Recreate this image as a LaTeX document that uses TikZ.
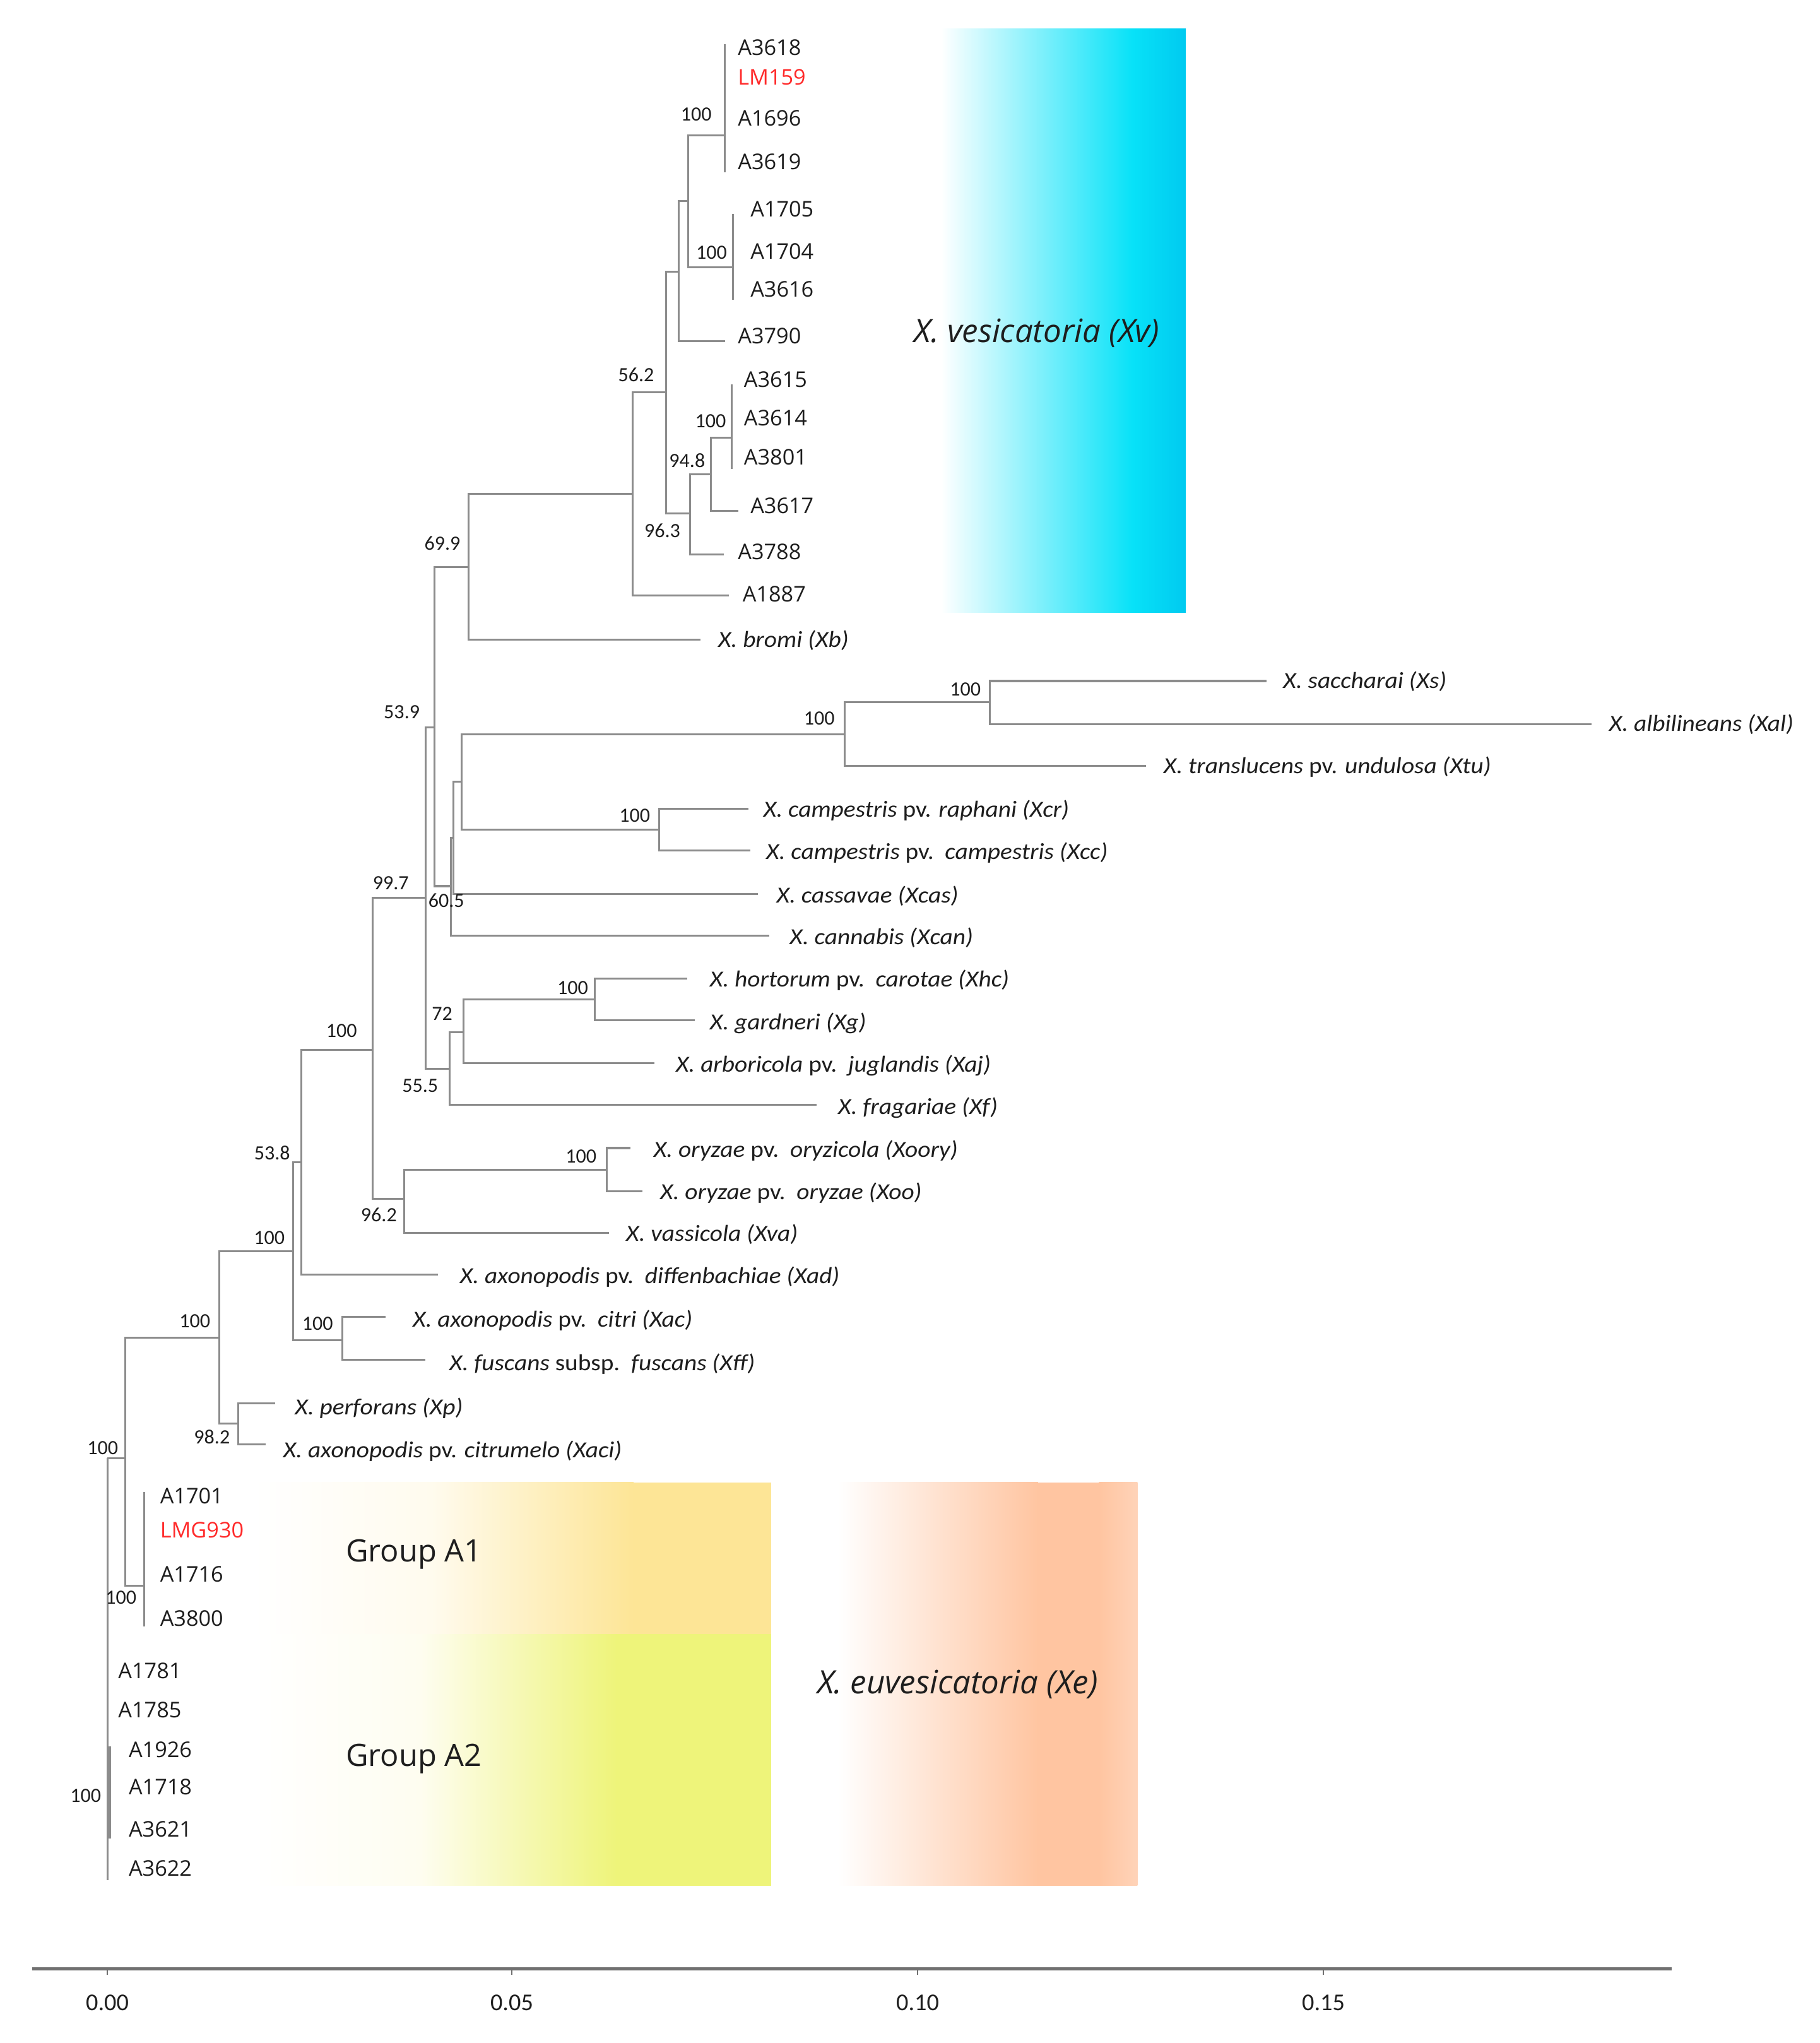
\documentclass[tikz,border=0pt]{standalone}
\usepackage{fontspec}
\setmainfont{Open Sans}
\newfontfamily\osfont{Open Sans}
\newfontfamily\spfont{Carlito}[FakeStretch=1.08]
\newfontfamily\bsfont{Carlito}
\newcommand{\pvtxt}{{\upshape pv.}}
\newcommand{\ssptxt}{{\upshape subsp.}}
\definecolor{brc}{HTML}{8C8C8C}
\definecolor{axc}{HTML}{707070}
\definecolor{txc}{HTML}{1E1E1E}
\definecolor{redlab}{HTML}{FF2A2A}
\definecolor{vesA}{HTML}{08E2F8}
\definecolor{vesB}{HTML}{00CAF0}
\definecolor{aoneA}{HTML}{FFFBEE}
\definecolor{aoneB}{HTML}{FDE596}
\definecolor{atwoA}{HTML}{FEFDF0}
\definecolor{atwoB}{HTML}{EEF47A}
\definecolor{euA}{HTML}{FFC5A1}
\definecolor{euB}{HTML}{FFD3B8}
\begin{document}
\begin{tikzpicture}[x=0.02cm,y=-0.01992cm,
  br/.style={draw=brc, line width=0.85pt},
  tip/.style={anchor=west, inner sep=0pt, text=txc, font=\osfont\fontsize{9.4}{10}\selectfont, text height=6.7pt, text depth=0pt},
  spec/.style={anchor=west, inner sep=0pt, text=txc, font=\spfont\fontsize{10}{11}\selectfont\itshape, text height=6.4pt, text depth=0pt},
  bs/.style={anchor=east, inner sep=0pt, text=txc, font=\bsfont\fontsize{8.8}{10}\selectfont, text height=5.6pt, text depth=0pt},
  axl/.style={anchor=center, inner sep=0pt, text=txc, font=\bsfont\fontsize{10.5}{12}\selectfont, text height=6.6pt, text depth=0pt},
  big/.style={anchor=west, inner sep=0pt, text=txc, font=\osfont\fontsize{14}{16}\selectfont\itshape, text height=10pt, text depth=0pt},
  grp/.style={anchor=west, inner sep=0pt, text=txc, font=\osfont\fontsize{13.4}{15}\selectfont, text height=9.6pt, text depth=0pt}
]
\useasboundingbox (0,0) rectangle (1390.2,1567.8);
\fill[white] (0,0) rectangle (1390.2,1567.8);

% ---------- coloured panels ----------
\shade[left color=white, right color=vesA] (719,22) rectangle (865,470);
\shade[left color=vesA, right color=vesB] (864.5,22) rectangle (906,470);

\shade[left color=white, right color=aoneA] (194,1137.5) rectangle (330,1254);
\shade[left color=aoneA, right color=aoneB] (329.5,1137.5) rectangle (484,1254);
\fill[aoneB] (483.5,1137.5) rectangle (589,1254);

\shade[left color=white, right color=atwoA] (194,1254) rectangle (322,1447);
\shade[left color=atwoA, right color=atwoB] (321.5,1254) rectangle (471,1447);
\fill[atwoB] (470.5,1254) rectangle (589,1447);

\shade[left color=white, right color=euA] (640,1137.5) rectangle (793,1447);
\fill[euA] (792.5,1137.5) rectangle (840,1447);
\shade[left color=euA, right color=euB] (839.5,1137.5) rectangle (869,1447);

% ---------- tree coordinates ----------
\coordinate (c1t) at (553.8,34);   \coordinate (c1b) at (553.8,132);  \coordinate (n1) at (553.8,103.7);
\coordinate (c2t) at (560,164);    \coordinate (c2b) at (560,230);    \coordinate (n2) at (560,205);
\coordinate (n3) at (525.8,154.4);
\coordinate (n4) at (518.6,208.4);
\coordinate (t3790) at (553.8,262);
\coordinate (n5) at (509,301);
\coordinate (c6t) at (559,295);    \coordinate (c6b) at (559,360);    \coordinate (n6) at (559,335.7);
\coordinate (n7) at (543,364);
\coordinate (t3617) at (564,392);
\coordinate (n8) at (527,394);
\coordinate (t3788) at (553,425.5);
\coordinate (n9) at (483.4,379);
\coordinate (t1887) at (557,457);
\coordinate (n10) at (358,435);
\coordinate (tXb) at (535,491);
\coordinate (n11) at (332,558);
\coordinate (n12a) at (756,539);
\coordinate (tXs) at (967.7,522.6);
\coordinate (tXal) at (1216,555.6);
\coordinate (n12) at (645.5,563.5);
\coordinate (tXtu) at (875.6,587.7);
\coordinate (ncamp) at (503.6,636.8);
\coordinate (tXcr) at (571.6,620.8);
\coordinate (tXcc) at (573,652.8);
\coordinate (nN1) at (352.6,600);
\coordinate (nN2) at (346.5,643);
\coordinate (tXcas) at (579,686);
\coordinate (nN3) at (344.5,680);
\coordinate (tXcan) at (587.6,718);
\coordinate (nhc) at (454.5,767);
\coordinate (tXhc) at (525,751);
\coordinate (tXg) at (531,783);
\coordinate (n15) at (354,792);
\coordinate (tXaj) at (500,816);
\coordinate (n16) at (343.5,820);
\coordinate (tXf) at (624,848);
\coordinate (n17) at (325,689);
\coordinate (nory) at (463.6,897.5);
\coordinate (tXoory) at (481.4,881);
\coordinate (tXoo) at (490.6,914);
\coordinate (n18) at (309,920);
\coordinate (tXva) at (465,946.3);
\coordinate (n19) at (284.6,805.6);
\coordinate (n20) at (230,892);
\coordinate (tXad) at (334.8,978);
\coordinate (ncit) at (261.6,1028.5);
\coordinate (tXac) at (294.6,1010.6);
\coordinate (tXff) at (325,1043.5);
\coordinate (n21) at (224,960);
\coordinate (nperf) at (182,1092.6);
\coordinate (tXp) at (210.4,1076.7);
\coordinate (tXaci) at (203,1108.6);
\coordinate (n22) at (167.4,1026.6);
\coordinate (cA1t) at (110,1145); \coordinate (cA1b) at (110,1248); \coordinate (nA1) at (110,1217);
\coordinate (n23) at (95.5,1119);
\coordinate (root) at (82,1119);   \coordinate (rootb) at (82,1443);
\coordinate (cA2t) at (83.3,1340); \coordinate (cA2b) at (83.3,1411);

% ---------- branches ----------
\draw[br] (c1t) -- (c1b);
\draw[br] (c2t) -- (c2b);
\draw[br] (c6t) -- (c6b);
\draw[br] (n3) |- (n1);  \draw[br] (n3) |- (n2);
\draw[br] (n4) |- (n3);  \draw[br] (n4) |- (t3790);
\draw[br] (n7) |- (n6);  \draw[br] (n7) |- (t3617);
\draw[br] (n8) |- (n7);  \draw[br] (n8) |- (t3788);
\draw[br] (n5) |- (n4);  \draw[br] (n5) |- (n8);
\draw[br] (n9) |- (n5);  \draw[br] (n9) |- (t1887);
\draw[br] (n10) |- (n9); \draw[br] (n10) |- (tXb);
\draw[br] (n12a) |- (tXs); \draw[br] (n12a) |- (tXal);
\draw[br] (n12) |- (n12a); \draw[br] (n12) |- (tXtu);
\draw[br] (ncamp) |- (tXcr); \draw[br] (ncamp) |- (tXcc);
\draw[br] (nN1) |- (n12); \draw[br] (nN1) |- (ncamp);
\draw[br] (nN2) |- (nN1); \draw[br] (nN2) |- (tXcas);
\draw[br] (nN3) |- (nN2); \draw[br] (nN3) |- (tXcan);
\draw[br] (n11) |- (n10); \draw[br] (n11) |- (nN3);
\draw[br] (nhc) |- (tXhc); \draw[br] (nhc) |- (tXg);
\draw[br] (n15) |- (nhc); \draw[br] (n15) |- (tXaj);
\draw[br] (n16) |- (n15); \draw[br] (n16) |- (tXf);
\draw[br] (n17) |- (n11); \draw[br] (n17) |- (n16);
\draw[br] (nory) |- (tXoory); \draw[br] (nory) |- (tXoo);
\draw[br] (n18) |- (nory); \draw[br] (n18) |- (tXva);
\draw[br] (n19) |- (n17); \draw[br] (n19) |- (n18);
\draw[br] (n20) |- (n19); \draw[br] (n20) |- (tXad);
\draw[br] (ncit) |- (tXac); \draw[br] (ncit) |- (tXff);
\draw[br] (n21) |- (n20); \draw[br] (n21) |- (ncit);
\draw[br] (nperf) |- (tXp); \draw[br] (nperf) |- (tXaci);
\draw[br] (n22) |- (n21); \draw[br] (n22) |- (nperf);
\draw[br] (cA1t) -- (cA1b);
\draw[br] (n23) |- (n22); \draw[br] (n23) |- (nA1);
\draw[br] (root) -- (n23);
\draw[br] (root) -- (rootb);
\draw[draw=brc, line width=1.6pt] (cA2t) -- (cA2b);

% ---------- strain labels ----------
\node[tip] (lA3618) at (563.4,36.7) {A3618};
\node[tip, text=redlab] (lLM159) at (563.4,59) {LM159};
\node[tip] (lA1696) at (563.4,90.7) {A1696};
\node[tip] (lA3619) at (563.4,124) {A3619};
\node[tip] (lA1705) at (573,160.6) {A1705};
\node[tip] (lA1704) at (573,193) {A1704};
\node[tip] (lA3616) at (573,222) {A3616};
\node[tip] (lA3790) at (563.4,258) {A3790};
\node[tip] (lA3615) at (568,291) {A3615};
\node[tip] (lA3614) at (568,321) {A3614};
\node[tip] (lA3801) at (568,351) {A3801};
\node[tip] (lA3617) at (573,388) {A3617};
\node[tip] (lA3788) at (563.4,423.5) {A3788};
\node[tip] (lA1887) at (567,456) {A1887};

\node[tip] (lA1701) at (122,1148) {A1701};
\node[tip, text=redlab] (lLMG930) at (122,1174) {LMG930};
\node[tip] (lA1716) at (122,1208) {A1716};
\node[tip] (lA3800) at (122,1242) {A3800};
\node[tip] (lA1781) at (90,1282) {A1781};
\node[tip] (lA1785) at (90,1312) {A1785};
\node[tip] (lA1926) at (98,1342.5) {A1926};
\node[tip] (lA1718) at (98,1371.5) {A1718};
\node[tip] (lA3621) at (98,1403.5) {A3621};
\node[tip] (lA3622) at (98,1434) {A3622};

% ---------- species labels ----------
\node[spec] (sXb) at (548.3,491) {X. bromi (Xb)};
\node[spec] (sXs) at (980,522.6) {X. saccharai (Xs)};
\node[spec] (sXal) at (1229,555.6) {X. albilineans (Xal)};
\node[spec] (sXtu) at (888.6,587.7) {X. translucens \pvtxt{} undulosa (Xtu)};
\node[spec] (sXcr) at (583,621.5) {X. campestris \pvtxt{} raphani (Xcr)};
\node[spec] (sXcc) at (585,654) {X. campestris \pvtxt\ \ campestris (Xcc)};
\node[spec] (sXcas) at (593,687) {X. cassavae (Xcas)};
\node[spec] (sXcan) at (603,719) {X. cannabis (Xcan)};
\node[spec] (sXhc) at (542,751.5) {X. hortorum \pvtxt\ \ carotae (Xhc)};
\node[spec] (sXg) at (542,784.5) {X. gardneri (Xg)};
\node[spec] (sXaj) at (516,817) {X. arboricola \pvtxt\ \ juglandis (Xaj)};
\node[spec] (sXf) at (640,849.5) {X. fragariae (Xf)};
\node[spec] (sXoory) at (499,882.5) {X. oryzae \pvtxt\ \ oryzicola (Xoory)};
\node[spec] (sXoo) at (504,915) {X. oryzae \pvtxt\ \ oryzae (Xoo)};
\node[spec] (sXva) at (478,947) {X. vassicola (Xva)};
\node[spec] (sXad) at (351,979) {X. axonopodis \pvtxt\ \ diffenbachiae (Xad)};
\node[spec] (sXac) at (315,1012.5) {X. axonopodis \pvtxt\ \ citri (Xac)};
\node[spec] (sXff) at (343,1046) {X. fuscans \ssptxt\ \ fuscans (Xff)};
\node[spec] (sXp) at (225,1080) {X. perforans (Xp)};
\node[spec] (sXaci) at (216,1113) {X. axonopodis \pvtxt{} citrumelo (Xaci)};

% ---------- bootstrap values ----------
\node[bs] (b1) at (544,88) {100};
\node[bs] (b2) at (555.7,194) {100};
\node[bs] (b3) at (500,288) {56.2};
\node[bs] (b4) at (555,323) {100};
\node[bs] (b5) at (539,353.6) {94.8};
\node[bs] (b6) at (520,407.6) {96.3};
\node[bs] (b7) at (352,417) {69.9};
\node[bs] (b8) at (321,546.6) {53.9};
\node[bs] (b9) at (638,551.5) {100};
\node[bs] (b10) at (749.6,529) {100};
\node[bs] (b11) at (497,626) {100};
\node[bs] (b12) at (312.6,677.8) {99.7};
\node[bs] (b13) at (355,691.4) {60.5};
\node[bs] (b14) at (449.6,758) {100};
\node[bs] (b15) at (346,778) {72};
\node[bs] (b16) at (335,833) {55.5};
\node[bs] (b17) at (456,887.6) {100};
\node[bs] (b18) at (303.5,932.6) {96.2};
\node[bs] (b19) at (273,791) {100};
\node[bs] (b20) at (222,885) {53.8};
\node[bs] (b21) at (217.8,950) {100};
\node[bs] (b22) at (254.7,1016) {100};
\node[bs] (b23) at (161,1014) {100};
\node[bs] (b24) at (176,1103) {98.2};
\node[bs] (b25) at (90.6,1111) {100};
\node[bs] (b26) at (104.6,1226) {100};
\node[bs] (b27) at (77.6,1378) {100};

% ---------- panel labels ----------
\node[big] (lXv) at (698,254) {X. vesicatoria (Xv)};
\node[big] (lXe) at (624,1291) {X. euvesicatoria (Xe)};
\node[grp] (gA1) at (264,1190) {Group A1};
\node[grp] (gA2) at (264,1347) {Group A2};

% ---------- scale axis ----------
\coordinate (ax0) at (24.7,1511);
\coordinate (ax1) at (1277,1511);
\draw[draw=axc, line width=1.3pt] (ax0) -- (ax1);
\foreach \tx/\tl [count=\i] in {82/0.00, 391/0.05, 701/0.10, 1011/0.15} {
  \coordinate (tk\i) at (\tx,1511);
  \coordinate (tkb\i) at (\tx,1515.5);
  \draw[draw=axc, line width=0.5pt] (tk\i) -- (tkb\i);
  \node[axl] (al\i) at (\tx,1537) {\tl};
}
\end{tikzpicture}
\end{document}
